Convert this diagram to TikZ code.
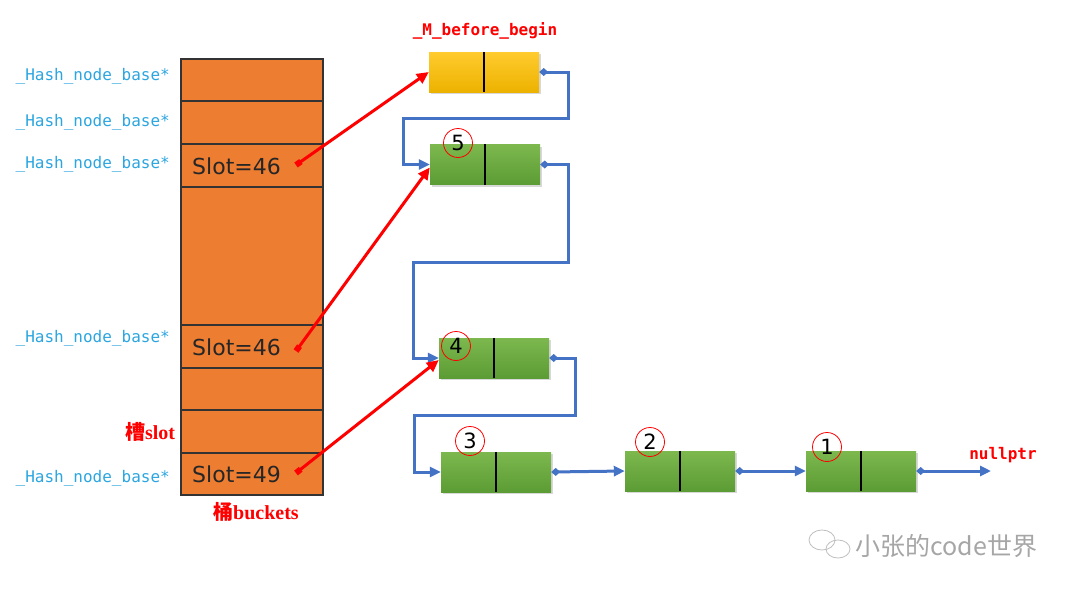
\documentclass[tikz,border=0pt]{standalone}
\usepackage{fontspec}
\setmainfont{DejaVu Sans}
\newfontfamily\monof{DejaVu Sans Mono}
\newfontfamily\cjk{Noto Sans CJK SC}
\newfontfamily\serifb{Liberation Serif}
\usetikzlibrary{arrows.meta,shadows}
\definecolor{bucketor}{HTML}{ED7D31}
\definecolor{linkblue}{HTML}{4472C4}
\definecolor{ptrblue}{HTML}{2CA6E0}
\definecolor{gtop}{HTML}{7CB84E}
\definecolor{gbot}{HTML}{5C9C34}
\definecolor{ytop}{HTML}{FFCB2E}
\definecolor{ybot}{HTML}{EDB200}
\tikzset{
  bucket/.style={draw=black!80, line width=1.5pt, fill=bucketor, minimum width=142pt, inner sep=0pt},
  ptrlabel/.style={anchor=east, inner sep=0pt, text=ptrblue, font=\monof\fontsize{16}{18}\selectfont},
  slottext/.style={anchor=west, inner sep=0pt, text=black!85, font=\fontsize{22}{24}\selectfont},
  listnode/.style={minimum width=110pt, minimum height=40pt, inner sep=0pt,
     top color=gtop, bottom color=gbot, drop shadow={opacity=0.3, shadow xshift=2pt, shadow yshift=-2pt}},
  headnode/.style={listnode, top color=ytop, bottom color=ybot},
  divider/.style={line width=1.8pt, black},
  numc/.style={circle, draw=red, line width=0.8pt, minimum size=29pt, inner sep=0pt, font=\fontsize{21}{23}\selectfont},
  link/.style={linkblue, line width=3pt, {Diamond[length=9pt,width=8pt]}-{Triangle[length=11pt,width=10pt]}},
  redptr/.style={red, line width=3pt, {Square[length=6pt,width=6pt]}-{Triangle[length=12pt,width=11pt]}},
  redlabel/.style={text=red, font=\monof\bfseries\fontsize{16}{18}\selectfont},
  cnlabel/.style={text=red, font=\serifb\bfseries\fontsize{20}{22}\selectfont}
}
\begin{document}
\begin{tikzpicture}[x=1pt,y=-1pt]
\useasboundingbox[fill=white] (0,0) rectangle (1080,595);
% buckets
\node[bucket, minimum height=42pt] (r1) at (252,80) {};
\node[bucket, minimum height=43pt] (r2) at (252,122.5) {};
\node[bucket, minimum height=43pt] (r3) at (252,165.5) {};
\node[bucket, minimum height=138pt] (r4) at (252,256) {};
\node[bucket, minimum height=43pt] (r5) at (252,346.5) {};
\node[bucket, minimum height=42pt] (r6) at (252,389) {};
\node[bucket, minimum height=43pt] (r7) at (252,431.5) {};
\node[bucket, minimum height=42pt] (r8) at (252,474) {};
\node[slottext] (t3) at (192,166) {Slot=46};
\node[slottext] (t5) at (192,347) {Slot=46};
\node[slottext] (t8) at (192,474) {Slot=49};
\coordinate (s3) at (296,165);
\coordinate (s5) at (296,351);
\coordinate (s8) at (296,473);
% pointer labels
\node[ptrlabel] (p1) at (170,76) {\_Hash\_node\_base*};
\node[ptrlabel] (p2) at (170,122) {\_Hash\_node\_base*};
\node[ptrlabel] (p3) at (170,164) {\_Hash\_node\_base*};
\node[ptrlabel] (p5) at (170,338) {\_Hash\_node\_base*};
\node[ptrlabel] (p8) at (170,478) {\_Hash\_node\_base*};
\node[cnlabel] (slotlab) at (150,432) {{\cjk\bfseries 槽}slot};
\node[cnlabel] (bucklab) at (256,512) {{\cjk\bfseries 桶}buckets};
% list nodes
\node[headnode] (hd) at (484,72) {};
\node[listnode] (n5) at (485,164.5) {};
\node[listnode] (n4) at (494,358) {};
\node[listnode] (n3) at (496,472) {};
\node[listnode] (n2) at (680,471) {};
\node[listnode] (n1) at (861,471) {};
\foreach \n in {hd,n5,n4,n3,n2,n1} \draw[divider] (\n.north) -- (\n.south);
\node[redlabel] (hdlab) at (485,31) {\_M\_before\_begin};
\node[redlabel] (nulllab) at (1003,455) {nullptr};
\coordinate (nullend) at (991,471);
% numbers
\node[numc] (c5) at (458,143) {5};
\node[numc] (c4) at (456,346) {4};
\node[numc] (c3) at (470,441) {3};
\node[numc] (c2) at (650,442) {2};
\node[numc] (c1) at (827,447) {1};
% blue links
\draw[link] (hd.east) -- (568,72) -- (568,118) -- (403,118) -- (403,164.5) -- (n5.west);
\draw[link] (n5.east) -- (568,164.5) -- (568,262) -- (413,262) -- (413,358) -- (n4.west);
\draw[link] (n4.east) -- (575,358) -- (575,415) -- (414,415) -- (414,472) -- (n3.west);
\draw[link] (n3.east) -- (n2.west);
\draw[link] (n2.east) -- (n1.west);
\draw[link] (n1.east) -- (nullend);
% red pointers
\draw[redptr] (s3) -- (hd.west);
\draw[redptr] (s5) -- ([yshift=-3pt]n5.west);
\draw[redptr] (s8) -- ([yshift=-2pt]n4.west);
% watermark
\begin{scope}[draw=black!25, line width=0.8pt]
\draw (822,540) ellipse (13pt and 10pt);
\draw (838,549) ellipse (12pt and 9pt);
\end{scope}
\node[anchor=west, text=black!35, font=\cjk\fontsize{25}{27}\selectfont] (wm) at (852,546) {小张的code世界};
\end{tikzpicture}
\end{document}
